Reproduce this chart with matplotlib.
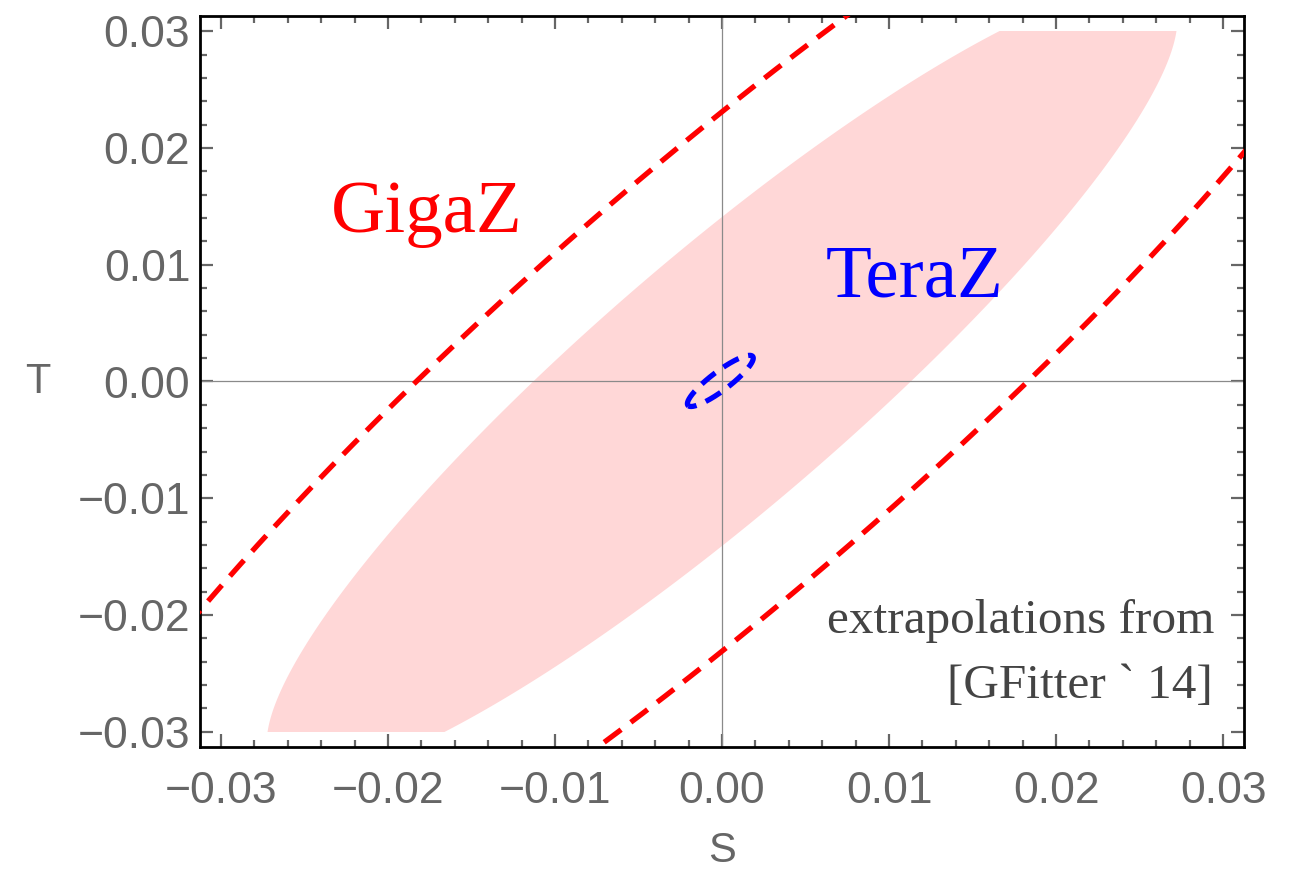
import numpy as np
import matplotlib
matplotlib.use('Agg')
import matplotlib.pyplot as plt
from matplotlib.patches import Rectangle
from matplotlib.ticker import MultipleLocator

# plot window
s_lim = (-0.03125, 0.03125)
t_lim = (-0.0313, 0.0313)
major_ticks = [-0.03, -0.02, -0.01, 0.0, 0.01, 0.02, 0.03]
tick_labels = ['\u22120.03', '\u22120.02', '\u22120.01', '0.00', '0.01', '0.02', '0.03']

# ellipses as quadratic forms  a*S^2 + 2b*S*T + c*T^2 = 1
fit_form = [7831., -5717., 5040.]        # current fit (pink band), cut at |T| = 0.03
fit_center = [0.0, 0.0]
fit_cut = 0.03
gigaz_form = [2986., -2151., 1874.]
gigaz_center = [0.0, 0.0]
teraz_form = [1.235e6, -0.9887e6, 1.0e6]
teraz_center = [-0.0001, 0.00005]

grey = '#666666'


def ellipse_xy(form, center, n=600):
    # boundary points of the ellipse given by the quadratic form
    a, b, c = form
    w, v = np.linalg.eigh(np.array([[a, b], [b, c]]))
    th = np.linspace(0, 2*np.pi, n)
    circ = np.array([np.cos(th), np.sin(th)])
    pts = v @ (circ / np.sqrt(w)[:, None])
    return pts[0] + center[0], pts[1] + center[1]


fig = plt.figure(figsize=(12.94, 8.71), dpi=100)
ax = fig.add_axes([200/1294, 1-747/871, 1044/1294, 731/871])

# pink region, clipped to |T| <= cut
sx, ty = ellipse_xy(fit_form, fit_center)
poly = ax.fill(sx, ty, color='#ffd7d7', lw=0, zorder=1)[0]
clip = Rectangle((-1, -fit_cut), 2, 2*fit_cut, transform=ax.transData)
poly.set_clip_path(clip)

# axes through origin
ax.axhline(0, color='#8a8a8a', lw=0.9, zorder=2)
ax.axvline(0, color='#8a8a8a', lw=0.9, zorder=2)

sx, ty = ellipse_xy(gigaz_form, gigaz_center)
ax.plot(sx, ty, color='#ff0000', lw=3.8, dashes=(4.0, 2.3), dash_capstyle='butt', zorder=3)

sx, ty = ellipse_xy(teraz_form, teraz_center)
ax.plot(sx, ty, color='#0000ff', lw=3.8, dashes=(3.3, 1.9), dash_capstyle='butt', zorder=3)

# labels inside the frame
ax.text(-0.0177, 0.0128, 'GigaZ', color='#ff0000', family='Liberation Serif',
        fontsize=54, ha='center', va='baseline')
ax.text(0.0115, 0.0073, 'TeraZ', color='#0000ff', family='Liberation Serif',
        fontsize=54, ha='center', va='baseline')
ax.text(0.0295, -0.0215, 'extrapolations from', color='#444444', family='Liberation Serif',
        fontsize=35.5, ha='right', va='baseline')
ax.text(0.0294, -0.0271, '[GFitter ` 14]', color='#444444', family='Liberation Serif',
        fontsize=35.5, ha='right', va='baseline')

ax.set_xlim(s_lim)
ax.set_ylim(t_lim)
ax.set_xticks(major_ticks)
ax.set_xticklabels(tick_labels)
ax.set_yticks(major_ticks)
ax.set_yticklabels(tick_labels)
ax.xaxis.set_minor_locator(MultipleLocator(0.002))
ax.yaxis.set_minor_locator(MultipleLocator(0.002))
ax.tick_params(which='both', direction='in', top=True, right=True, color=grey, width=1.6)
ax.tick_params(which='major', length=9.5)
ax.tick_params(which='minor', length=5)
ax.tick_params(axis='x', which='major', pad=17, labelsize=32, labelcolor=grey)
ax.tick_params(axis='y', which='major', pad=7, labelsize=32, labelcolor=grey)
for lab in ax.get_xticklabels() + ax.get_yticklabels():
    lab.set_family('Liberation Sans')
for sp in ax.spines.values():
    sp.set_linewidth(2.0)
    sp.set_color('black')

fig.text(722/1294, 1-851/871, 'S', color=grey, family='Liberation Sans', fontsize=30,
         ha='center', va='center')
fig.text(38/1294, 1-382/871, 'T', color=grey, family='Liberation Sans', fontsize=30,
         ha='center', va='center')

fig.savefig('out.png', dpi=100)
